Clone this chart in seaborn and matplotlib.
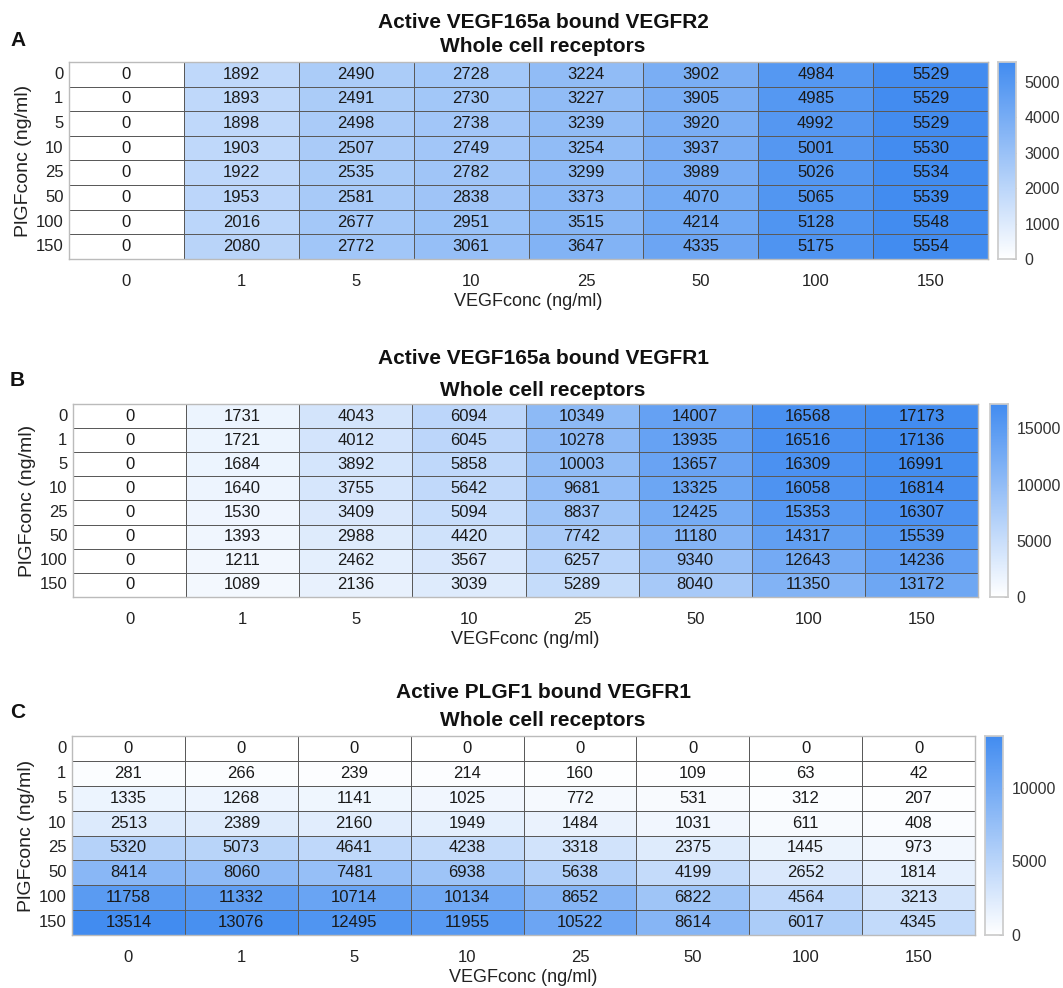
import numpy as np
import pandas as pd
import matplotlib
matplotlib.use("Agg")
import matplotlib.pyplot as plt
import seaborn as sns
from matplotlib.colors import LinearSegmentedColormap

sns.set_theme(style="white")
plt.rcParams['font.family'] = ['Liberation Sans', 'DejaVu Sans']

vegf_conc = ["0", "1", "5", "10", "25", "50", "100", "150"]
plgf_conc = ["0", "1", "5", "10", "25", "50", "100", "150"]

titles_a = ["Active VEGF165a bound VEGFR2", "Whole cell receptors"]
titles_b = ["Active VEGF165a bound VEGFR1", "Whole cell receptors"]
titles_c = ["Active PLGF1 bound VEGFR1", "Whole cell receptors"]

vegfr2_vegf = [
    [0, 1892, 2490, 2728, 3224, 3902, 4984, 5529],
    [0, 1893, 2491, 2730, 3227, 3905, 4985, 5529],
    [0, 1898, 2498, 2738, 3239, 3920, 4992, 5529],
    [0, 1903, 2507, 2749, 3254, 3937, 5001, 5530],
    [0, 1922, 2535, 2782, 3299, 3989, 5026, 5534],
    [0, 1953, 2581, 2838, 3373, 4070, 5065, 5539],
    [0, 2016, 2677, 2951, 3515, 4214, 5128, 5548],
    [0, 2080, 2772, 3061, 3647, 4335, 5175, 5554],
]
vegfr1_vegf = [
    [0, 1731, 4043, 6094, 10349, 14007, 16568, 17173],
    [0, 1721, 4012, 6045, 10278, 13935, 16516, 17136],
    [0, 1684, 3892, 5858, 10003, 13657, 16309, 16991],
    [0, 1640, 3755, 5642, 9681, 13325, 16058, 16814],
    [0, 1530, 3409, 5094, 8837, 12425, 15353, 16307],
    [0, 1393, 2988, 4420, 7742, 11180, 14317, 15539],
    [0, 1211, 2462, 3567, 6257, 9340, 12643, 14236],
    [0, 1089, 2136, 3039, 5289, 8040, 11350, 13172],
]
vegfr1_plgf = [
    [0, 0, 0, 0, 0, 0, 0, 0],
    [281, 266, 239, 214, 160, 109, 63, 42],
    [1335, 1268, 1141, 1025, 772, 531, 312, 207],
    [2513, 2389, 2160, 1949, 1484, 1031, 611, 408],
    [5320, 5073, 4641, 4238, 3318, 2375, 1445, 973],
    [8414, 8060, 7481, 6938, 5638, 4199, 2652, 1814],
    [11758, 11332, 10714, 10134, 8652, 6822, 4564, 3213],
    [13514, 13076, 12495, 11955, 10522, 8614, 6017, 4345],
]
cbar_ticks_a = [0, 1000, 2000, 3000, 4000, 5000]
cbar_ticks_b = [0, 5000, 10000, 15000]
cbar_ticks_c = [0, 5000, 10000]

cmap = LinearSegmentedColormap.from_list("wb", ["#ffffff", "#428cf0"])

W, H = 1063, 988
fig = plt.figure(figsize=(W / 100, H / 100), dpi=100)


def rect(x0, x1, y0, y1):
    return [x0 / W, 1 - y1 / H, (x1 - x0) / W, (y1 - y0) / H]


panels = [
    dict(data=vegfr2_vegf, titles=titles_a, letter="A", ticks=cbar_ticks_a,
         ax=(69, 988, 62, 259), cb=(998, 1016), t1=22, t2=47, ly=40),
    dict(data=vegfr1_vegf, titles=titles_b, letter="B", ticks=cbar_ticks_b,
         ax=(73, 978, 404, 597), cb=(990, 1008), t1=358, t2=390, ly=380),
    dict(data=vegfr1_plgf, titles=titles_c, letter="C", ticks=cbar_ticks_c,
         ax=(72, 975, 736, 935), cb=(985, 1003), t1=692, t2=720, ly=713),
]

for p in panels:
    x0, x1, y0, y1 = p["ax"]
    ax = fig.add_axes(rect(x0, x1, y0, y1))
    cax = fig.add_axes(rect(p["cb"][0], p["cb"][1], y0, y1))
    df = pd.DataFrame(p["data"], index=plgf_conc, columns=vegf_conc)
    sns.heatmap(df, ax=ax, cbar_ax=cax, cmap=cmap, annot=True, fmt="d",
                annot_kws={"fontsize": 12, "color": "#1a1a1a"},
                linewidths=0.7, linecolor="#5a5a5a",
                cbar_kws={"ticks": p["ticks"]})
    ax.tick_params(axis="both", length=0, labelsize=12, colors="#222222")
    ax.tick_params(axis="x", pad=11)
    ax.tick_params(axis="y", pad=4)
    ax.set_yticklabels(plgf_conc, rotation=0)
    ax.set_xticklabels(vegf_conc, rotation=0)
    ax.set_xlabel("VEGFconc (ng/ml)", fontsize=13, color="#222222", labelpad=3)
    ax.set_ylabel("PlGFconc (ng/ml)", fontsize=14, color="#222222", labelpad=3)
    for s in ax.spines.values():
        s.set_visible(True)
        s.set_color("#bbbbbb")
        s.set_linewidth(1.0)
    cax.tick_params(labelsize=11.5, colors="#333333", length=3, width=0.6,
                    direction="in", pad=6)
    cax.yaxis.set_tick_params(color="#888888")
    for s in cax.spines.values():
        s.set_visible(True)
        s.set_color("#cccccc")
    cx = 543 / W
    fig.text(cx, 1 - p["t1"] / H, p["titles"][0], ha="center", va="center",
             fontsize=15, fontweight="bold", color="#111111")
    fig.text(cx, 1 - p["t2"] / H, p["titles"][1], ha="center", va="center",
             fontsize=15, fontweight="bold", color="#111111")
    fig.text(10 / W, 1 - p["ly"] / H, p["letter"], ha="left", va="center",
             fontsize=15, fontweight="bold", color="#111111")

fig.savefig("out.png", dpi=100)
